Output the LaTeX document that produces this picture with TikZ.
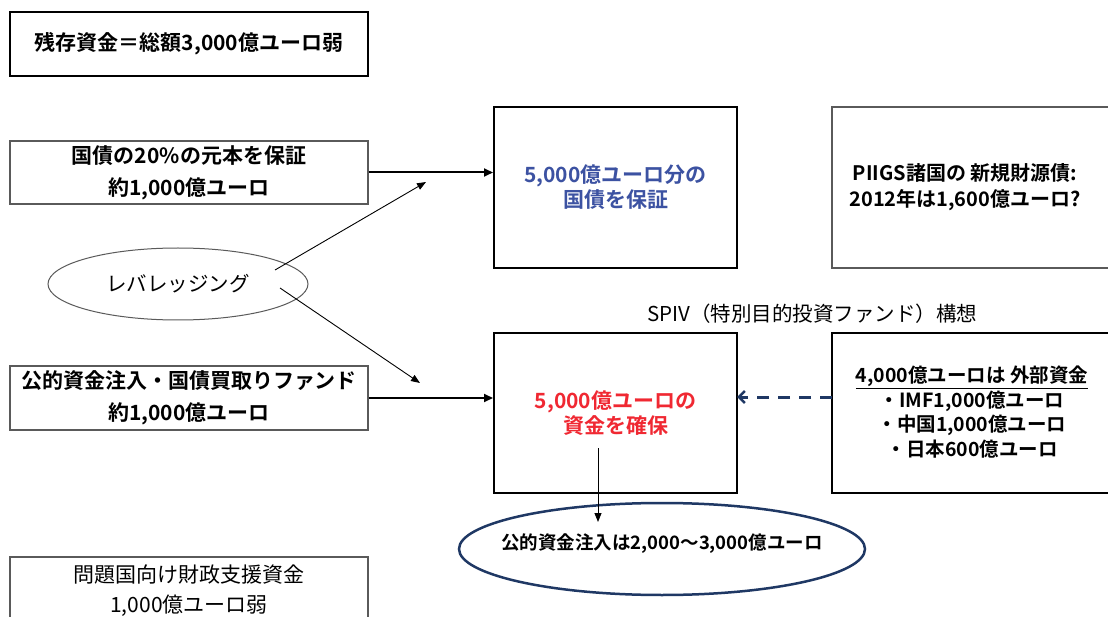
\documentclass[tikz,border=0pt]{standalone}
\usepackage{fontspec}
\setmainfont{Noto Sans CJK JP}[BoldFont={Noto Sans CJK JP Bold}]
\usetikzlibrary{arrows.meta,shapes.geometric,calc}
\definecolor{txtblue}{RGB}{60,82,162}
\definecolor{txtred}{RGB}{240,40,50}
\definecolor{navy}{RGB}{31,56,100}
\definecolor{lgray}{RGB}{90,90,90}
\tikzset{
  thickbox/.style={draw=black, line width=2pt, rectangle, inner sep=0pt},
  thinbox/.style={draw=lgray, line width=1.1pt, rectangle, inner sep=0pt},
  boxtext/.style={font=\bfseries\fontsize{21}{32}\selectfont, align=center},
  midtext/.style={font=\bfseries\fontsize{21}{25}\selectfont, align=center},
  mainarrow/.style={line width=2pt, -{Triangle[length=9pt,width=8pt]}},
  thinarrow/.style={line width=0.9pt, -{Triangle[length=9pt,width=7pt]}},
}
\begin{document}
\begin{tikzpicture}[x=1pt,y=-1pt]
\useasboundingbox (0,0) rectangle (1108,617);
\fill[white] (0,0) rectangle (1108,617);
% top-left box
\node[thickbox, minimum width=358pt, minimum height=64pt, boxtext] (total) at (189,44) {残存資金＝総額3,000億ユーロ弱};
% left boxes
\node[thinbox, minimum width=358pt, minimum height=63pt, boxtext] (guar) at (189,172.5) {国債の20\%の元本を保証\\約1,000億ユーロ};
\node[thinbox, minimum width=358pt, minimum height=64pt, boxtext] (fund) at (189,398) {公的資金注入・国債買取りファンド\\約1,000億ユーロ};
\draw[thinbox] (10,557) rectangle (368,640);
\node[font=\fontsize{21}{30}\selectfont, align=center] (aid) at (189,591) {問題国向け財政支援資金\\1,000億ユーロ弱};
% middle boxes
\node[thickbox, minimum width=243pt, minimum height=161pt, midtext, text=txtblue] (bond) at (615.5,187.5) {5,000億ユーロ分の\\国債を保証};
\node[thickbox, minimum width=243pt, minimum height=160pt, midtext, text=txtred] (cap) at (615.5,413) {5,000億ユーロの\\資金を確保};
% right boxes
\draw[draw=lgray, line width=1.1pt] (1120,107) -- (832,107) -- (832,268) -- (1120,268);
\node[midtext, font=\bfseries\fontsize{20}{26}\selectfont] (piigs) at (965,187) {PIIGS諸国の 新規財源債:\\2012年は1,600億ユーロ?};
\draw[draw=black, line width=2pt] (1120,333) -- (832,333) -- (832,493) -- (1120,493);
\node[font=\bfseries\fontsize{19.5}{24.5}\selectfont, align=center] (ext) at (972,412) {\underline{4,000億ユーロは 外部資金}\\・IMF1,000億ユーロ\\・中国1,000億ユーロ\\・日本600億ユーロ};
% SPIV label
\node[font=\fontsize{20.5}{22}\selectfont] (spiv) at (812,314) {SPIV（特別目的投資ファンド）構想};
% leveraging ellipse
\node[ellipse, draw=lgray, line width=1pt, minimum width=260pt, minimum height=72pt, font=\fontsize{20.5}{22}\selectfont] (lev) at (178,284) {レバレッジング};
% bottom ellipse
\node[ellipse, draw=navy, line width=2.5pt, minimum width=406pt, minimum height=92pt, inner sep=0pt] (pub) at (662,549) {};
\node[font=\bfseries\fontsize{18.5}{20}\selectfont] (pubt) at (662,544) {公的資金注入は2,000～3,000億ユーロ};
% coordinates
\coordinate (l1s) at (275,270);
\coordinate (l1e) at (426,182);
\coordinate (l2s) at (280,288);
\coordinate (l2e) at (420,383);
\coordinate (ds) at (598,448);
\coordinate (de) at (598,522);
\coordinate (dashs) at (832,397);
\coordinate (dashe) at (737,397);
% arrows
\draw[mainarrow] (guar.east) -- (guar.east -| bond.west);
\draw[mainarrow] (fund.east) -- (fund.east -| cap.west);
\draw[thinarrow] (l1s) -- (l1e);
\draw[thinarrow] (l2s) -- (l2e);
\draw[thinarrow] (ds) -- (de);
\draw[navy, line width=3pt, dash pattern=on 12pt off 9pt, -{Straight Barb[length=6pt,width=12pt,line width=2.5pt]}] (dashs) -- (dashe);
\end{tikzpicture}
\end{document}
